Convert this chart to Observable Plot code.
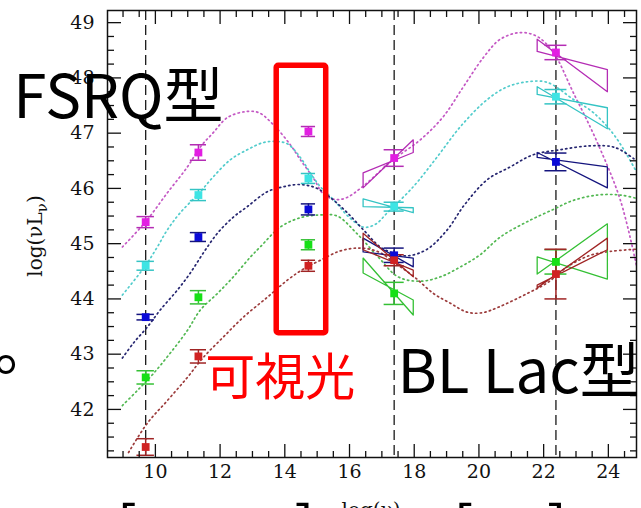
<!DOCTYPE html>
<html>
<head>
<meta charset="utf-8">
<script src="https://cdn.jsdelivr.net/npm/d3@7"></script>
<script src="https://cdn.jsdelivr.net/npm/@observablehq/plot@0.6"></script>
<style>
  body { margin: 0; background: #fff; }
  #chart { width: 641px; height: 508px; overflow: hidden; position: relative; }
  #chart svg { overflow: hidden; }
</style>
</head>
<body>
<div id="chart"></div>
<script>
// Observing frequencies, log(nu): radio 5 GHz, far-IR, optical V, 1 keV, 100 MeV
const freqs = [9.7, 11.33, 14.73, 17.38, 22.38];
// Reference lines at radio, X-ray and gamma-ray
const bandLines = [9.7, 17.38, 22.38];

// Luminosity bins, brightest first
const bins = ["bin1", "bin2", "bin3", "bin4", "bin5"];

// Average log(nu L_nu) per bin at each frequency
const lumBin1 = [45.39, 46.65, 47.03, 46.55, 48.46];
const lumBin2 = [44.60, 45.88, 46.18, 45.67, 47.66];
const lumBin3 = [43.67, 45.12, 45.62, 44.79, 46.48];
const lumBin4 = [42.58, 44.03, 44.98, 44.10, 44.67];
const lumBin5 = [41.32, 42.96, 44.60, 44.70, 44.45];

// Error bar half-lengths
const errBin1 = [0.10, 0.14, 0.09, 0.15, 0.13];
const errBin2 = [0.08, 0.10, 0.09, 0.08, 0.13];
const errBin3 = [0.05, 0.08, 0.10, 0.13, 0.16];
const errBin4 = [0.12, 0.12, 0.09, 0.20, 0.22];
const errBin5 = [0.15, 0.12, 0.10, 0.10, 0.45];

// Parametric SED models, [log nu, log nuLnu]
const modelBin1 = [[8.98,44.94],[9.69,45.39],[10.37,45.92],[10.99,46.39],[11.39,46.75],[11.79,47.01],[12.22,47.28],[12.78,47.39],[13.2,47.37],[13.65,47.15],[14.17,46.79],[14.48,46.52],[14.88,46.19],[15.19,45.9],[15.56,45.8],[15.9,45.83],[16.4,46.03],[17.35,46.52],[18.19,46.88],[18.9,47.3],[19.52,47.84],[20.14,48.37],[20.66,48.7],[21.28,48.82],[21.8,48.75],[22.3,48.46],[22.92,47.73],[23.66,46.83],[24.37,45.79],[24.87,44.6]];
const modelBin2 = [[8.98,44.07],[9.69,44.6],[10.06,44.94],[10.37,45.25],[10.77,45.56],[11.39,45.94],[11.79,46.21],[12.32,46.52],[12.84,46.7],[13.34,46.83],[13.77,46.85],[14.1,46.8],[14.48,46.56],[14.79,46.28],[15.1,46.03],[15.5,45.8],[15.95,45.5],[16.43,45.3],[16.8,45.35],[17.17,45.56],[17.97,46.03],[18.71,46.57],[19.43,47.12],[20.26,47.61],[20.88,47.84],[21.5,47.93],[22.11,47.92],[22.92,47.61],[23.54,47.37],[24.2,46.95],[24.87,46.3]];
const modelBin3 = [[8.98,42.93],[9.32,43.2],[9.75,43.49],[10.15,43.8],[10.68,44.16],[11.08,44.47],[11.48,44.83],[11.92,45.19],[12.41,45.48],[12.84,45.67],[13.46,45.94],[13.96,46.03],[14.5,46.07],[15.0,46.0],[15.5,45.79],[15.93,45.56],[16.43,45.25],[16.95,44.94],[17.35,44.83],[17.8,44.78],[18.4,44.9],[19.02,45.25],[19.55,45.7],[20.26,46.16],[20.97,46.39],[21.68,46.61],[22.52,46.7],[23.44,46.77],[24.21,46.74],[24.87,46.5]];
const modelBin4 = [[8.98,42.07],[9.44,42.34],[9.94,42.65],[10.46,43.02],[10.99,43.43],[11.39,43.8],[11.92,44.1],[12.41,44.4],[12.94,44.76],[13.24,44.94],[13.86,45.3],[14.48,45.47],[15.1,45.52],[15.62,45.5],[16.2,45.2],[16.9,44.75],[17.5,44.4],[18.19,44.32],[18.81,44.4],[19.43,44.58],[20.04,44.8],[20.66,45.12],[21.5,45.4],[22.3,45.62],[22.9,45.78],[23.66,45.88],[24.37,45.88],[24.87,45.82]];
const modelBin5 = [[9.17,41.22],[9.75,41.75],[10.37,42.16],[10.99,42.58],[11.48,42.94],[12.1,43.31],[12.72,43.67],[13.46,44.03],[14.08,44.34],[14.6,44.55],[15.1,44.7],[15.72,44.87],[16.33,44.92],[16.9,44.85],[17.4,44.65],[18.0,44.4],[18.59,44.1],[19.12,43.92],[19.64,43.76],[20.1,43.75],[20.6,43.85],[21.5,44.1],[22.11,44.29],[22.73,44.58],[23.44,44.79],[24.06,44.86],[24.87,44.9]];

// X-ray spectral bow-ties (edge pairs at the band limits)
const xrayBowBin1 = [[16.42,46.28],[17.97,46.65],[17.97,46.88],[16.42,46.01]];
const xrayBowBin2 = [[16.42,45.81],[17.97,45.56],[17.97,45.65],[16.42,45.67]];
const xrayBowBin3 = [[16.42,45.10],[17.97,44.58],[17.97,44.74],[16.42,44.85]];
const xrayBowBin4 = [[16.42,44.74],[17.97,43.71],[17.97,43.98],[16.42,44.47]];
const xrayBowBin5 = [[16.42,45.19],[17.97,44.40],[17.97,44.52],[16.42,44.89]];
// Gamma-ray spectral bow-ties
const gammaBowBin1 = [[21.8,48.70],[23.97,47.75],[23.97,48.15],[21.8,48.48]];
const gammaBowBin2 = [[21.8,47.84],[23.97,47.08],[23.97,47.46],[21.8,47.70]];
const gammaBowBin3 = [[21.8,46.65],[23.97,46.01],[23.97,46.39],[21.8,46.56]];
const gammaBowBin4 = [[21.8,44.76],[23.97,44.36],[23.97,45.36],[21.8,44.45]];
const gammaBowBin5 = [[21.8,44.25],[23.97,44.89],[23.97,45.10],[21.8,44.20]];

// Optical band highlight
const opticalBox = [{x1: 13.75, x2: 15.28, y1: 43.38, y2: 48.22}];

// Tick values
const xMajor = [10, 12, 14, 16, 18, 20, 22, 24];
const yMajor = [42, 43, 44, 45, 46, 47, 48, 49];

// Styling per bin
const pointColor = {bin1: "#e21ee2", bin2: "#3ee4e4", bin3: "#0a0ad8", bin4: "#16e016", bin5: "#d02222"};
const barColor   = {bin1: "#b42cb4", bin2: "#34c4c4", bin3: "#14147e", bin4: "#34c034", bin5: "#a02424"};
const modelColor = {bin1: "#c458c4", bin2: "#52cccc", bin3: "#262670", bin4: "#52b852", bin5: "#9c3c3c"};
const capHalf = [0.27, 0.25, 0.22, 0.31, 0.34];

const lums = [lumBin1, lumBin2, lumBin3, lumBin4, lumBin5];
const errs = [errBin1, errBin2, errBin3, errBin4, errBin5];
const models = [modelBin1, modelBin2, modelBin3, modelBin4, modelBin5];
const xrayBows = [xrayBowBin1, xrayBowBin2, xrayBowBin3, xrayBowBin4, xrayBowBin5];
const gammaBows = [gammaBowBin1, gammaBowBin2, gammaBowBin3, gammaBowBin4, gammaBowBin5];

const points = bins.flatMap((bin, i) => freqs.map((f, j) => ({bin, x: f, y: lums[i][j], e: errs[i][j], w: capHalf[j]})));
const modelRows = bins.flatMap((bin, i) => models[i].map(([x, y]) => ({bin, x, y})));
const bowRows = bins.flatMap((bin, i) => [
  ...xrayBows[i].map(([x, y]) => ({bin, id: bin + "-x", x, y})),
  ...gammaBows[i].map(([x, y]) => ({bin, id: bin + "-g", x, y}))
]);

const xMinor = d3.range(9, 25, 0.5).filter(v => !xMajor.includes(v));
const yMinor = d3.range(41.25, 49.25, 0.25).filter(v => !yMajor.includes(v));

const serif = "DejaVu Serif";
const jp = "Noto Sans CJK JP";

// Inward-pointing ticks on all four sides of the box
const tickAxes = [
  Plot.axisX({anchor: "bottom", ticks: xMajor, tickSize: -13, tickFormat: () => "", label: null, strokeWidth: 1.3}),
  Plot.axisX({anchor: "bottom", ticks: xMinor, tickSize: -6, tickFormat: () => "", label: null, strokeWidth: 1.3}),
  Plot.axisX({anchor: "top", ticks: xMajor, tickSize: -13, tickFormat: () => "", label: null, strokeWidth: 1.3}),
  Plot.axisX({anchor: "top", ticks: xMinor, tickSize: -6, tickFormat: () => "", label: null, strokeWidth: 1.3}),
  Plot.axisY({anchor: "left", ticks: yMajor, tickSize: -14, tickFormat: () => "", label: null, strokeWidth: 1.3}),
  Plot.axisY({anchor: "left", ticks: yMinor, tickSize: -7, tickFormat: () => "", label: null, strokeWidth: 1.3}),
  Plot.axisY({anchor: "right", ticks: yMajor, tickSize: -14, tickFormat: () => "", label: null, strokeWidth: 1.3}),
  Plot.axisY({anchor: "right", ticks: yMinor, tickSize: -7, tickFormat: () => "", label: null, strokeWidth: 1.3})
];

const chart = Plot.plot({
  width: 641,
  height: 508,
  marginLeft: 107,
  marginRight: 5,
  marginTop: 10,
  marginBottom: 51,
  x: {domain: [8.52, 24.87]},
  y: {domain: [41.13, 49.22]},
  color: {type: "identity"},
  style: {background: "#fff", color: "#111", fontFamily: serif, fontSize: "19px"},
  marks: [
    Plot.ruleX(bandLines, {stroke: "#1a1a1a", strokeWidth: 1.3, strokeDasharray: "10,5"}),
    Plot.line(modelRows, {x: "x", y: "y", z: "bin", stroke: d => modelColor[d.bin], strokeWidth: 1.7,
      strokeDasharray: "1.3,3.4", strokeLinecap: "round", curve: "catmull-rom", clip: true}),
    Plot.line(bowRows, {x: "x", y: "y", z: "id", stroke: d => barColor[d.bin], strokeWidth: 1.3, curve: "linear-closed"}),
    Plot.ruleX(points, {x: "x", y1: d => d.y - d.e, y2: d => d.y + d.e, stroke: d => barColor[d.bin], strokeWidth: 1.5, clip: true}),
    Plot.ruleY(points, {y: d => d.y + d.e, x1: d => d.x - d.w, x2: d => d.x + d.w, stroke: d => barColor[d.bin], strokeWidth: 1.5, clip: true}),
    Plot.ruleY(points, {y: d => d.y - d.e, x1: d => d.x - d.w, x2: d => d.x + d.w, stroke: d => barColor[d.bin], strokeWidth: 1.5, clip: true}),
    Plot.dot(points, {x: "x", y: "y", symbol: "square", r: 4.4, fill: d => pointColor[d.bin], stroke: "none"}),
    Plot.frame({stroke: "#111", strokeWidth: 1.5}),
    ...tickAxes,
    Plot.axisX({anchor: "bottom", ticks: xMajor, tickSize: 0, tickPadding: 7, label: null, fontSize: 19}),
    Plot.axisY({anchor: "left", ticks: yMajor, tickSize: 0, tickPadding: 13, label: null, fontSize: 19}),
    Plot.rect(opticalBox, {x1: "x1", x2: "x2", y1: "y1", y2: "y2", fill: "none", stroke: "#ff0000", strokeWidth: 5.5, rx: 2}),
    Plot.text(["FSRQ型"], {x: 5.61, y: 47.278, text: d => d, textAnchor: "start", lineAnchor: "bottom", fontFamily: jp, fontSize: 60, fill: "#000"}),
    Plot.text(["BL Lac型"], {x: 17.48, y: 42.29, text: d => d, textAnchor: "start", lineAnchor: "bottom", fontFamily: jp, fontSize: 60, fill: "#000"}),
    Plot.text(["可視光"], {x: 13.86, y: 42.27, text: d => d, textAnchor: "middle", lineAnchor: "bottom", fontFamily: jp, fontSize: 50, fill: "#ff0000"}),
    Plot.text(["。"], {x: 5.02, y: 42.72, text: d => d, textAnchor: "start", lineAnchor: "bottom", fontFamily: jp, fontSize: 60, fill: "#000"}),
    Plot.text(["[", "]", "[", "]"], {x: [8.8, 14.3, 19.2, 22.1], y: 39.45, text: d => d, textAnchor: "start", lineAnchor: "bottom", fontFamily: jp, fontSize: 60, fill: "#000"})
  ]
});

const svg = d3.select(chart);
// Axis titles with a subscript nu
const yTitle = svg.append("text")
  .attr("transform", "translate(42,236) rotate(-90)")
  .attr("text-anchor", "middle")
  .attr("font-family", serif)
  .attr("font-size", 20)
  .attr("fill", "#111");
yTitle.append("tspan").text("log(νL");
yTitle.append("tspan").attr("font-size", 15).attr("dy", 5).text("ν");
yTitle.append("tspan").attr("dy", -5).text(")");

svg.append("text")
  .attr("x", 371).attr("y", 517)
  .attr("text-anchor", "middle")
  .attr("font-family", serif)
  .attr("font-size", 20)
  .attr("fill", "#111")
  .text("log(ν)");

document.getElementById("chart").append(chart);
</script>
</body>
</html>
